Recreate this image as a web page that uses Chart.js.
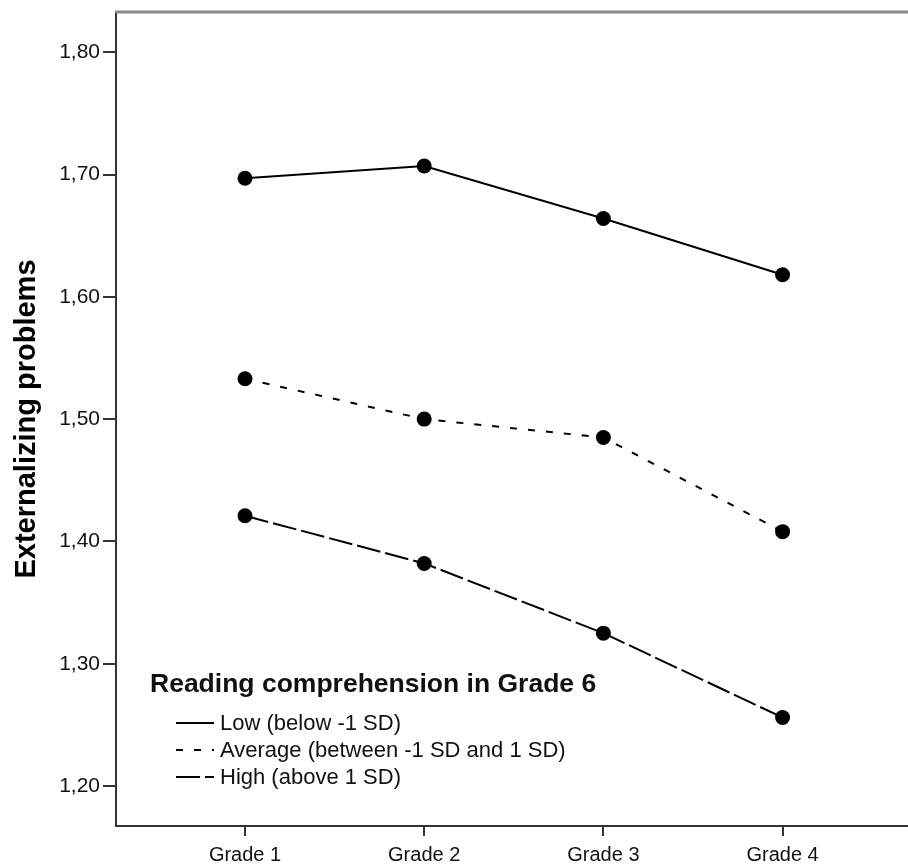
<!DOCTYPE html>
<html>
<head>
<meta charset="utf-8">
<script src="https://cdn.jsdelivr.net/npm/chart.js@4"></script>
<style>
  body { margin: 0; background: #fff; }
  canvas { display: block; }
</style>
</head>
<body>
<canvas id="chart" width="908" height="867"></canvas>
<script>
// values
var grades = ['Grade 1', 'Grade 2', 'Grade 3', 'Grade 4'];
var low = [1.697, 1.707, 1.664, 1.618];
var average = [1.533, 1.500, 1.485, 1.408];
var high = [1.421, 1.382, 1.325, 1.256];
var yTicks = [1.20, 1.30, 1.40, 1.50, 1.60, 1.70, 1.80];
var legendTitle = 'Reading comprehension in Grade 6';

function points(values) {
  return values.map(function (v, i) { return { x: i, y: v }; });
}

// top gray frame line + legend inside the plot
var framePlugin = {
  id: 'frame',
  afterDraw: function (chart) {
    var ctx = chart.ctx;
    var area = chart.chartArea;
    ctx.save();
    ctx.strokeStyle = '#888';
    ctx.lineWidth = 3;
    ctx.beginPath();
    ctx.moveTo(area.left - 1, area.top);
    ctx.lineTo(chart.width, area.top);
    ctx.stroke();

    // legend
    ctx.fillStyle = '#111';
    ctx.textBaseline = 'middle';
    ctx.font = 'bold 26.5px "Liberation Sans", Arial, sans-serif';
    ctx.fillText(legendTitle, 150, 685);
    ctx.font = '22px "Liberation Sans", Arial, sans-serif';
    chart.data.datasets.forEach(function (ds, i) {
      var y = 723 + i * 27;
      ctx.strokeStyle = '#000';
      ctx.lineWidth = 2;
      ctx.setLineDash(ds.borderDash || []);
      ctx.beginPath();
      ctx.moveTo(176, y);
      ctx.lineTo(214, y);
      ctx.stroke();
      ctx.setLineDash([]);
      ctx.fillText(ds.label, 220, y + 1);
    });
    ctx.restore();
  }
};

var ctx = document.getElementById('chart').getContext('2d');
var chart = new Chart(ctx, {
  type: 'line',
  data: {
    datasets: [
      {
        label: 'Low (below -1 SD)',
        data: points(low),
        borderColor: '#000',
        backgroundColor: '#000',
        borderWidth: 2,
        borderDash: [],
        pointRadius: 7.5,
        pointBorderWidth: 0,
        fill: false
      },
      {
        label: 'Average (between -1 SD and 1 SD)',
        data: points(average),
        borderColor: '#000',
        backgroundColor: '#000',
        borderWidth: 2,
        borderDash: [7, 11],
        pointRadius: 7.5,
        pointBorderWidth: 0,
        fill: false
      },
      {
        label: 'High (above 1 SD)',
        data: points(high),
        borderColor: '#000',
        backgroundColor: '#000',
        borderWidth: 2,
        borderDash: [24, 5],
        pointRadius: 7.5,
        pointBorderWidth: 0,
        fill: false
      }
    ]
  },
  options: {
    responsive: false,
    animation: false,
    layout: { autoPadding: false, padding: { top: 12, left: 0, right: 0, bottom: 0 } },
    plugins: {
      legend: { display: false },
      tooltip: { enabled: false }
    },
    scales: {
      x: {
        type: 'linear',
        min: -0.72,
        max: 3.70,
        afterFit: function (scale) {
          scale.height = 41;
          scale.paddingLeft = 0;
          scale.paddingRight = 0;
        },
        afterBuildTicks: function (scale) {
          scale.ticks = grades.map(function (g, i) { return { value: i }; });
        },
        border: { display: true, color: '#333', width: 2 },
        grid: { drawOnChartArea: false, drawTicks: true, tickLength: 10, color: '#333', lineWidth: 2 },
        ticks: {
          color: '#111',
          padding: 7,
          maxRotation: 0,
          font: { family: '"Liberation Sans", Arial, sans-serif', size: 20 },
          callback: function (v) { return grades[v]; }
        }
      },
      y: {
        min: 1.1673,
        max: 1.8329,
        afterFit: function (scale) {
          scale.width = 116;
          scale.paddingTop = 0;
          scale.paddingBottom = 0;
        },
        afterBuildTicks: function (scale) {
          scale.ticks = yTicks.map(function (v) { return { value: v }; });
        },
        border: { display: true, color: '#333', width: 2 },
        grid: { drawOnChartArea: false, drawTicks: true, tickLength: 13, color: '#333', lineWidth: 2 },
        ticks: {
          color: '#111',
          padding: 3,
          font: { family: '"Liberation Sans", Arial, sans-serif', size: 21 },
          callback: function (v) { return v.toFixed(2).replace('.', ','); }
        },
        title: {
          display: true,
          text: 'Externalizing problems',
          color: '#000',
          padding: { top: 10, bottom: 0 },
          font: { family: '"Liberation Sans", Arial, sans-serif', size: 29, weight: 'bold' }
        }
      }
    }
  },
  plugins: [framePlugin]
});
</script>
</body>
</html>
